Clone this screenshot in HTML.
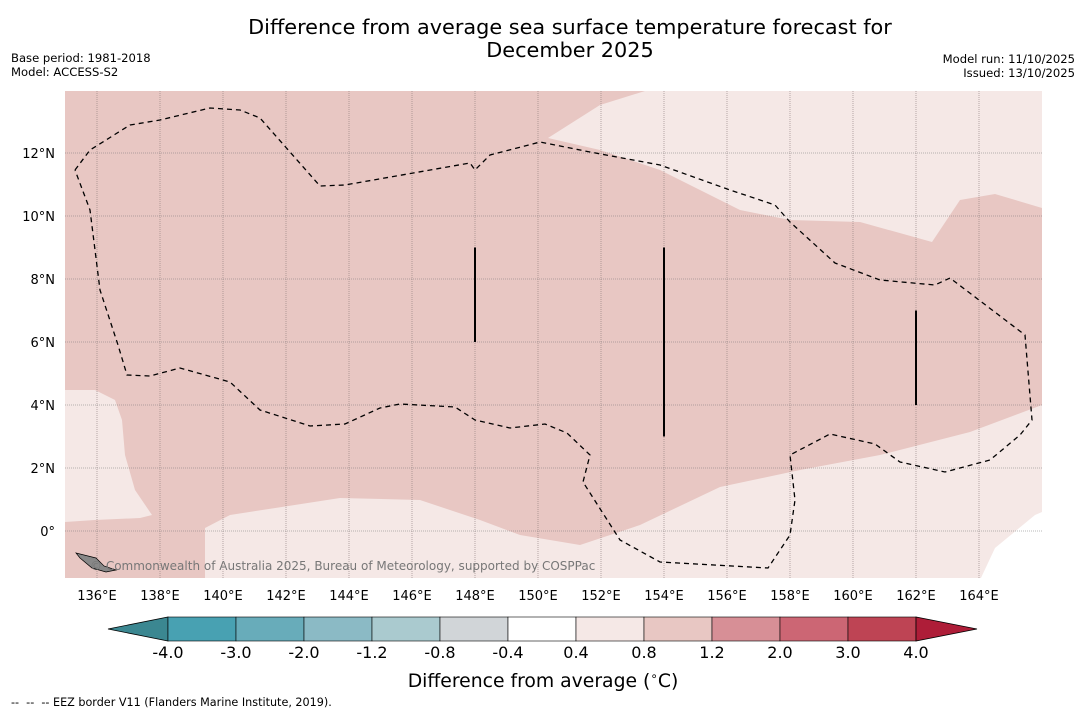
<!DOCTYPE html>
<html><head><meta charset="utf-8"><style>
body{margin:0;background:#fff;font-family:"DejaVu Sans","Liberation Sans",sans-serif;}
</style></head><body>
<svg id="chart" width="1085" height="713" xmlns="http://www.w3.org/2000/svg" font-family="DejaVu Sans, Liberation Sans, sans-serif">
<text x="570" y="34" font-size="20.8" text-anchor="middle">Difference from average sea surface temperature forecast for</text>
<text x="570" y="57" font-size="20.8" text-anchor="middle">December 2025</text>
<text x="11" y="62" font-size="11.6">Base period: 1981-2018</text>
<text x="11" y="76" font-size="11.6">Model: ACCESS-S2</text>
<text x="1075" y="63" font-size="11.6" text-anchor="end">Model run: 11/10/2025</text>
<text x="1075" y="77" font-size="11.6" text-anchor="end">Issued: 13/10/2025</text>
<defs><clipPath id="mc"><rect x="65" y="91" width="977" height="487"/></clipPath></defs>
<g id="map" clip-path="url(#mc)"></g>
<g id="axes"></g>
<g id="cbar"></g>
<text x="543" y="687" font-size="18.8" text-anchor="middle">Difference from average (<tspan font-size="12" dy="-7">∘</tspan><tspan dy="7">C)</tspan></text>
<text x="11" y="706" font-size="11.2" xml:space="preserve">--  --  -- EEZ border V11 (Flanders Marine Institute, 2019).</text>
</svg>
<script>
const lonTicks=[136,138,140,142,144,146,148,150,152,154,156,158,160,162,164];
const latTicks=[0,2,4,6,8,10,12];
const cbLevels=["-4.0","-3.0","-2.0","-1.2","-0.8","-0.4","0.4","0.8","1.2","2.0","3.0","4.0"];
const cbColors=["#48a1b2","#68acba","#8bbac5","#aacacf","#d1d5d8","#ffffff","#f5e8e6","#e8c7c3","#d78f96","#cc6674","#be4454"];
const lightTR=[[645,91],[600,105],[548,138],[600,150],[660,170],[740,210],[790,220],[860,222],[932,242],[960,200],[995,194],[1042,208],[1042,91]];
const lightL=[[65,390],[95,390],[115,400],[122,420],[125,455],[135,490],[152,515],[140,518],[95,520],[65,522]];
const lightB=[[205,580],[205,528],[230,515],[340,498],[420,500],[480,520],[520,535],[580,545],[640,525],[720,487],[800,470],[880,455],[970,432],[1042,405],[1042,580]];
const whiteBR=[[1042,512],[1035,515],[995,548],[980,580],[1042,580]];
const eez=[[75,170],[90,150],[130,125],[160,120],[210,108],[240,110],[260,118],[320,186],[345,185],[470,163],[475,170],[490,155],[540,142],[590,152],[660,165],[730,190],[775,205],[790,222],[835,263],[880,280],[935,285],[950,278],[1025,335],[1032,420],[1020,435],[990,460],[945,472],[900,462],[875,444],[830,434],[790,455],[795,500],[790,535],[768,568],[660,562],[620,540],[583,482],[590,455],[567,433],[545,424],[510,428],[475,420],[455,407],[400,404],[380,408],[345,424],[310,426],[260,410],[230,382],[180,368],[150,376],[127,375],[118,345],[100,290],[90,210],[75,170]];
const vlines=[[148,6,9],[154,3,9],[162,4,7]];
const NS="http://www.w3.org/2000/svg";
const X=lon=>65.5+(lon-135)*31.5, Y=lat=>531-lat*31.5;
function mk(p,t,a){const e=document.createElementNS(NS,t);for(const k in a)e.setAttribute(k,a[k]);p.appendChild(e);return e;}
const map=document.getElementById('map'),ax=document.getElementById('axes'),cb=document.getElementById('cbar');
let r=mk(map,'rect',{x:65,y:91,width:977,height:487,fill:'#e8c7c3'});


[lightTR,lightL,lightB].forEach((pts,i)=>{const p=mk(map,'polygon',{points:pts.map(q=>q.join(',')).join(' '),fill:'#f5e8e6'});

});
const wp=mk(map,'polygon',{points:whiteBR.map(q=>q.join(',')).join(' '),fill:'#ffffff'});


lonTicks.forEach(l=>{const x=X(l);const g=mk(map,'line',{x1:x,x2:x,y1:91,y2:578,stroke:'#8a7a7a','stroke-width':0.6,'stroke-dasharray':'1,1'});


const t=mk(ax,'text',{x:x,y:600,'font-size':13,'text-anchor':'middle'});t.textContent=l+'°E';

});
latTicks.forEach(l=>{const y=Y(l);const g=mk(map,'line',{x1:65,x2:1042,y1:y,y2:y,stroke:'#777','stroke-width':0.6,'stroke-dasharray':'1,1'});


const t=mk(ax,'text',{x:55,y:y+5,'font-size':13,'text-anchor':'end'});t.textContent=l===0?'0°':l+'°N';

});
const e=mk(map,'polyline',{points:eez.map(q=>q.join(',')).join(' '),fill:'none',stroke:'#000','stroke-width':1.3,'stroke-dasharray':'5,4'});


vlines.forEach(v=>{const l=mk(map,'line',{x1:X(v[0]),x2:X(v[0]),y1:Y(v[2]),y2:Y(v[1]),stroke:'#000','stroke-width':2});

});
const isl=mk(map,'polygon',{points:'76,553 88,556 96,558 104,566 116,570 106,572 92,568 80,558',fill:'#888',stroke:'#000','stroke-width':0.7});


const cr=mk(map,'text',{x:90,y:570,'font-size':12,fill:'#777'});cr.textContent='© Commonwealth of Australia 2025, Bureau of Meteorology, supported by COSPPac';


const x0=168,w=68,y0=617,h=24;
const lt=mk(cb,'polygon',{points:`${x0},${y0} ${x0},${y0+h} 108,${y0+h/2}`,fill:'#3b8791',stroke:'#000','stroke-width':0.8});


cbColors.forEach((c,i)=>{const b=mk(cb,'rect',{x:x0+i*w,y:y0,width:w,height:h,fill:c,stroke:'#000','stroke-width':0.6});

});
const xe=x0+cbColors.length*w;
const rt=mk(cb,'polygon',{points:`${xe},${y0} ${xe},${y0+h} 977,${y0+h/2}`,fill:'#ae1d38',stroke:'#000','stroke-width':0.8});


cbLevels.forEach((s,i)=>{const t=mk(cb,'text',{x:x0+i*w,y:658,'font-size':16,'text-anchor':'middle'});t.textContent=s;

});
</script>
</body></html>
